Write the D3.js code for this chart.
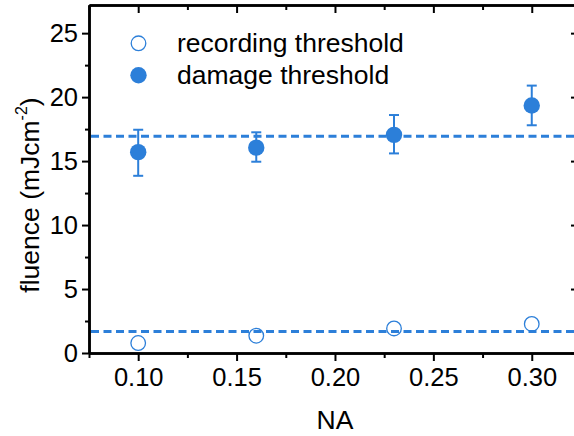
<!DOCTYPE html>
<html>
<head>
<meta charset="utf-8">
<script src="https://cdn.jsdelivr.net/npm/d3@7"></script>
<style>
    body { margin: 0; background: #fff; }
    #chart { width: 574px; height: 436px; }
    text { font-family: "Liberation Sans", Arial, sans-serif; fill: #000; }
</style>
</head>
<body>
<div id="chart"></div>
<script>

// data
const naValues = [0.10, 0.16, 0.23, 0.30];
const recording = [0.78, 1.35, 1.92, 2.27];
const damage = [15.7, 16.05, 17.05, 19.35];
const damageErrLow = [13.85, 14.95, 15.6, 17.8];
const damageErrHigh = [17.45, 17.25, 18.6, 20.9];
const recordingMean = 1.69;
const damageMean = 16.95;

const xTicks = [0.10, 0.15, 0.20, 0.25, 0.30];
const xMinorTicks = [0.075, 0.125, 0.175, 0.225, 0.275];
const yTicks = [0, 5, 10, 15, 20, 25];
const yMinorTicks = [2.5, 7.5, 12.5, 17.5, 22.5];
const legendLabels = ["recording threshold", "damage threshold"];

const blue = "#2c7fd9";

/*************************
***** SET DIMENSIONS *****
*************************/

const width = 574;
const height = 436;
const plot = {left: 89, right: 578, top: 5, bottom: 353};

const x = d3.scaleLinear().domain([0.075, 0.3235]).range([plot.left, plot.right]);
const y = d3.scaleLinear().domain([0, 27.2]).range([plot.bottom, plot.top]);

const svg = d3.select("#chart")
    .append("svg")
    .attr("width", width)
    .attr("height", height);

/***************
***** AXES *****
***************/

function styleAxis(g) {
    g.select(".domain").attr("stroke", "#000").attr("stroke-width", 2.5);
    g.selectAll(".tick line").attr("stroke", "#000").attr("stroke-width", 2);
    g.selectAll("text").style("font-size", "25.5px").attr("fill", "#000");
}

// minor ticks first, majors on top
svg.append("g")
    .attr("transform", `translate(0,${plot.bottom})`)
    .call(d3.axisBottom(x).tickValues(xMinorTicks).tickSize(5).tickSizeOuter(0).tickFormat(""))
    .call(styleAxis);
svg.append("g")
    .attr("class", "xAxis")
    .attr("transform", `translate(0,${plot.bottom})`)
    .call(d3.axisBottom(x).tickValues(xTicks).tickSize(8).tickSizeOuter(0)
        .tickPadding(7).tickFormat(d3.format(".2f")))
    .call(styleAxis);

// top frame, ticks pointing in
svg.append("g")
    .attr("transform", `translate(0,${plot.top})`)
    .call(d3.axisBottom(x).tickValues(xMinorTicks).tickSize(5).tickSizeOuter(0).tickFormat(""))
    .call(styleAxis);
svg.append("g")
    .attr("transform", `translate(0,${plot.top})`)
    .call(d3.axisBottom(x).tickValues(xTicks).tickSize(8).tickSizeOuter(0).tickFormat(""))
    .call(styleAxis);

svg.append("g")
    .attr("transform", `translate(${plot.left},0)`)
    .call(d3.axisLeft(y).tickValues(yMinorTicks).tickSize(4).tickSizeOuter(0).tickFormat(""))
    .call(styleAxis);
svg.append("g")
    .attr("class", "yAxis")
    .attr("transform", `translate(${plot.left},0)`)
    .call(d3.axisLeft(y).tickValues(yTicks).tickSize(7).tickSizeOuter(0).tickPadding(4))
    .call(styleAxis);

// right frame sits just off the edge, only tick tips show
svg.append("g")
    .attr("transform", `translate(${plot.right},0)`)
    .call(d3.axisLeft(y).tickValues(yMinorTicks).tickSize(4).tickSizeOuter(0).tickFormat(""))
    .call(styleAxis);
svg.append("g")
    .attr("transform", `translate(${plot.right},0)`)
    .call(d3.axisLeft(y).tickValues(yTicks).tickSize(7).tickSizeOuter(0).tickFormat(""))
    .call(styleAxis);

/**********************
***** AXIS LABELS *****
**********************/

svg.append("text")
    .attr("x", 335)
    .attr("y", 429)
    .attr("text-anchor", "middle")
    .style("font-size", "26.5px")
    .text("NA");

const yLabel = svg.append("text")
    .attr("transform", "translate(39,195) rotate(-90)")
    .attr("text-anchor", "middle")
    .style("font-size", "26.5px");
yLabel.append("tspan").text("fluence (mJcm");
yLabel.append("tspan").attr("dy", -12).style("font-size", "16px").text("-2");
yLabel.append("tspan").attr("dy", 12).text(")");

/*****************
***** PLOT *****
*****************/

const g = svg.append("g").attr("id", "plot");

// mean lines
g.selectAll(".meanLine")
    .data([damageMean, recordingMean])
    .enter()
    .append("line")
    .attr("class", "meanLine")
    .attr("x1", plot.left + 2)
    .attr("x2", plot.right)
    .attr("y1", d => y(d))
    .attr("y2", d => y(d))
    .attr("stroke", blue)
    .attr("stroke-width", 3)
    .attr("stroke-dasharray", "8,4.5");

// error bars
const errs = naValues.map((na, i) => ({na: na, lo: damageErrLow[i], hi: damageErrHigh[i]}));
g.selectAll(".errStem")
    .data(errs)
    .enter()
    .append("line")
    .attr("x1", d => x(d.na))
    .attr("x2", d => x(d.na))
    .attr("y1", d => y(d.lo))
    .attr("y2", d => y(d.hi))
    .attr("stroke", blue)
    .attr("stroke-width", 2);
["lo", "hi"].forEach(k => {
    g.selectAll(".errCap" + k)
        .data(errs)
        .enter()
        .append("line")
        .attr("x1", d => x(d.na) - 5)
        .attr("x2", d => x(d.na) + 5)
        .attr("y1", d => y(d[k]))
        .attr("y2", d => y(d[k]))
        .attr("stroke", blue)
        .attr("stroke-width", 2);
});

g.selectAll(".damagePt")
    .data(naValues)
    .enter()
    .append("circle")
    .attr("cx", d => x(d))
    .attr("cy", (d, i) => y(damage[i]))
    .attr("r", 8.2)
    .attr("fill", blue);

g.selectAll(".recordingPt")
    .data(naValues)
    .enter()
    .append("circle")
    .attr("cx", d => x(d))
    .attr("cy", (d, i) => y(recording[i]))
    .attr("r", 7.3)
    .attr("fill", "none")
    .attr("stroke", blue)
    .attr("stroke-width", 1.3);

/*****************
***** LEGEND *****
*****************/

const legend = svg.append("g").attr("id", "legend");
legend.append("circle")
    .attr("cx", 138.5).attr("cy", 43.3).attr("r", 7.3)
    .attr("fill", "none").attr("stroke", blue).attr("stroke-width", 1.3);
legend.append("circle")
    .attr("cx", 138.5).attr("cy", 75.3).attr("r", 8.2)
    .attr("fill", blue);
legend.selectAll(".legendText")
    .data(legendLabels)
    .enter()
    .append("text")
    .attr("x", 177)
    .attr("y", (d, i) => 52 + i * 32)
    .style("font-size", "26.5px")
    .text(d => d);

</script>
</body>
</html>
